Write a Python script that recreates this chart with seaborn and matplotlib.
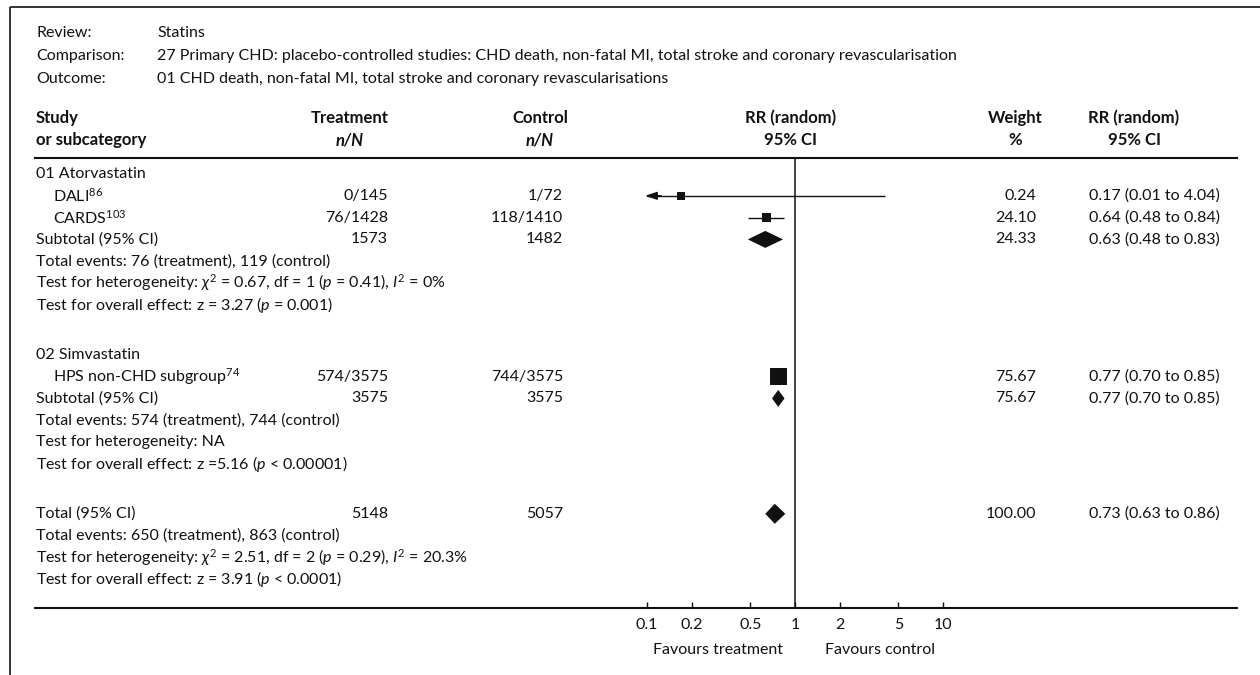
import numpy as np
import pandas as pd
import matplotlib
matplotlib.use("Agg")
import matplotlib.pyplot as plt
import seaborn as sns

# ---------------- data ----------------
review = "Statins"
comparison = ("27 Primary CHD: placebo-controlled studies: CHD death, non-fatal MI, "
              "total stroke and coronary revascularisation")
outcome = "01 CHD death, non-fatal MI, total stroke and coronary revascularisations"

groups = ["01 Atorvastatin", "02 Simvastatin"]

studies = ["DALI", "CARDS", "HPS non-CHD subgroup"]
study_refs = ["86", "103", "74"]
study_group = [0, 0, 1]
treat_nN = ["0/145", "76/1428", "574/3575"]
ctrl_nN = ["1/72", "118/1410", "744/3575"]
study_rr = [0.17, 0.64, 0.77]
study_lo = [0.01, 0.48, 0.70]
study_hi = [4.04, 0.84, 0.85]
study_weight = [0.24, 24.10, 75.67]

sub_treat_N = [1573, 3575]
sub_ctrl_N = [1482, 3575]
sub_rr = [0.63, 0.77]
sub_lo = [0.48, 0.70]
sub_hi = [0.83, 0.85]
sub_weight = [24.33, 75.67]
sub_events = ["Total events: 76 (treatment), 119 (control)",
              "Total events: 574 (treatment), 744 (control)"]
sub_het = [r"Test for heterogeneity: $\chi^2$ = 0.67, df = 1 ($p$ = 0.41), $I^2$ = 0%",
           "Test for heterogeneity: NA"]
sub_effect = [r"Test for overall effect: z = 3.27 ($p$ = 0.001)",
              r"Test for overall effect: z =5.16 ($p$ < 0.00001)"]

total_treat_N = 5148
total_ctrl_N = 5057
total_rr, total_lo, total_hi = 0.73, 0.63, 0.86
total_weight = 100.00
total_events = "Total events: 650 (treatment), 863 (control)"
total_het = r"Test for heterogeneity: $\chi^2$ = 2.51, df = 2 ($p$ = 0.29), $I^2$ = 20.3%"
total_effect = r"Test for overall effect: z = 3.91 ($p$ < 0.0001)"

axis_ticks = [0.1, 0.2, 0.5, 1, 2, 5, 10]
axis_tick_labels = ["0.1", "0.2", "0.5", "1", "2", "5", "10"]

# ---------------- style ----------------
sns.set_theme(style="white")
plt.rcParams["font.family"] = ["Lato", "DejaVu Sans"]
plt.rcParams["mathtext.fontset"] = "custom"
plt.rcParams["mathtext.rm"] = "Lato"
plt.rcParams["mathtext.it"] = "Lato:italic"
plt.rcParams["mathtext.bf"] = "Lato:bold"
FS = 11.5
FS_HEAD = 12
INK = "#111111"

W, H = 1260, 675
fig = plt.figure(figsize=(W / 100, H / 100), dpi=100)
fig.patch.set_facecolor("white")

# full-figure overlay in pixel units for the table text
tx = fig.add_axes([0, 0, 1, 1])
tx.set_xlim(0, W)
tx.set_ylim(H, 0)
tx.axis("off")

# plot strip geometry (pixels)
LEFT, RIGHT = 35, 1237
TOP, BOT = 158, 608
X_ONE, DECADE = 795, 148.0          # pixel of RR=1 and pixels per decade

# ---------------- row layout ----------------
pitch = 21.8
block_gap = 50.0
y = 174.0
rows_group, rows_study, rows_sub, rows_notes = [], [], [], []
for g in range(len(groups)):
    rows_group.append(y); y += pitch
    for i in range(len(studies)):
        if study_group[i] == g:
            rows_study.append(y); y += pitch
    rows_sub.append(y); y += pitch
    notes = []
    for _ in range(3):
        notes.append(y); y += pitch
    rows_notes.append(notes)
    y += block_gap - pitch
row_total = y
rows_total_notes = [y + pitch * k for k in (1, 2, 3)]

# ---------------- forest axes ----------------
ax = fig.add_axes([LEFT / W, 1 - BOT / H, (RIGHT - LEFT) / W, (BOT - TOP) / H])
ax.set_facecolor("none")
ax.set_xscale("log")
lo_exp = -(X_ONE - LEFT) / DECADE
hi_exp = (RIGHT - X_ONE) / DECADE
ax.set_xlim(10 ** lo_exp, 10 ** hi_exp)
ax.set_ylim(BOT, TOP)

for side in ("left", "right"):
    ax.spines[side].set_visible(False)
for side in ("top", "bottom"):
    ax.spines[side].set_color(INK)
    ax.spines[side].set_linewidth(1.5)

ax.set_xticks(axis_ticks)
ax.set_xticklabels(axis_tick_labels)
ax.xaxis.set_minor_locator(matplotlib.ticker.NullLocator())
ax.tick_params(axis="x", which="major", direction="in", length=4, width=1,
               color=INK, labelsize=FS, pad=7, labelcolor=INK, bottom=True)
ax.set_yticks([])

ax.axvline(1, color=INK, lw=1.1, zorder=1)

# confidence intervals (clipped at the lowest tick, with an arrow when clipped)
clip_lo = axis_ticks[0]
for yy, lo, hi in zip(rows_study, study_lo, study_hi):
    ax.hlines(yy, max(lo, clip_lo), hi, color=INK, lw=1.0, zorder=2)
    if lo < clip_lo:
        ax.annotate("", xy=(clip_lo * 0.97, yy), xytext=(clip_lo * 1.25, yy),
                    arrowprops=dict(arrowstyle="-|>,head_length=0.6,head_width=0.2",
                                    color=INK, lw=1.0, shrinkA=0, shrinkB=0))

# study squares, side grows with sqrt(weight)
side_px = np.maximum(8.0, 17.0 * np.sqrt(np.array(study_weight) / max(study_weight)))
side_pt = side_px * 72 / 100
sq = pd.DataFrame({"rr": study_rr, "y": rows_study})
sns.scatterplot(data=sq, x="rr", y="y", marker="s", s=side_pt ** 2,
                color=INK, linewidth=0, ax=ax, zorder=3, legend=False)
ax.set_xlabel("")
ax.set_ylabel("")


def diamond(yy, rr, lo, hi, h):
    ax.fill([lo, rr, hi, rr], [yy, yy - h / 2, yy, yy + h / 2],
            color=INK, lw=0, zorder=3)


for yy, rr, lo, hi in zip(rows_sub, sub_rr, sub_lo, sub_hi):
    diamond(yy, rr, lo, hi, 17)
diamond(row_total, total_rr, total_lo, total_hi, 20)

# ---------------- frame ----------------
tx.plot([10, W], [7, 7], color="#333333", lw=1.4, solid_capstyle="butt")
tx.plot([10, 10], [7, H], color="#333333", lw=1.4, solid_capstyle="butt")

# ---------------- text ----------------
def t(x, yy, s, ha="left", size=FS, **kw):
    tx.text(x, yy, s, ha=ha, va="center", fontsize=size, color=INK, **kw)


X_LAB, X_VAL = 36, 157
for yy, lab, val in zip([33, 56, 79], ["Review:", "Comparison:", "Outcome:"],
                        [review, comparison, outcome]):
    t(X_LAB, yy, lab)
    t(X_VAL, yy, val)

# column headers
HY1, HY2 = 118, 140
X_TRT, X_CTL, X_RR, X_WT, X_CI = 350, 540, 791, 1015, 1134
X_TRT_R, X_CTL_R, X_WT_R, X_CI_L = 388, 563, 1036, 1089
t(X_LAB, HY1, "Study", size=FS_HEAD, weight="bold")
t(X_LAB, HY2, "or subcategory", size=FS_HEAD, weight="bold")
for xc, l1, l2, it in [(X_TRT, "Treatment", "n/N", True), (X_CTL, "Control", "n/N", True),
                       (X_RR, "RR (random)", "95% CI", False), (X_WT, "Weight", "%", False),
                       (X_CI, "RR (random)", "95% CI", False)]:
    t(xc, HY1, l1, ha="center", size=FS_HEAD, weight="bold")
    t(xc, HY2, l2, ha="center", size=FS_HEAD, weight="bold",
      style="italic" if it else "normal")


def ci_text(rr, lo, hi):
    return f"{rr:.2f} ({lo:.2f} to {hi:.2f})"


X_IND = 53
for g in range(len(groups)):
    t(X_LAB, rows_group[g], groups[g])
    for i in range(len(studies)):
        if study_group[i] != g:
            continue
        yy = rows_study[i]
        t(X_IND, yy, f"{studies[i]}$^{{{study_refs[i]}}}$")
        t(X_TRT_R, yy, treat_nN[i], ha="right")
        t(X_CTL_R, yy, ctrl_nN[i], ha="right")
        t(X_WT_R, yy, f"{study_weight[i]:.2f}", ha="right")
        t(X_CI_L, yy, ci_text(study_rr[i], study_lo[i], study_hi[i]))
    yy = rows_sub[g]
    t(X_LAB, yy, "Subtotal (95% CI)")
    t(X_TRT_R, yy, str(sub_treat_N[g]), ha="right")
    t(X_CTL_R, yy, str(sub_ctrl_N[g]), ha="right")
    t(X_WT_R, yy, f"{sub_weight[g]:.2f}", ha="right")
    t(X_CI_L, yy, ci_text(sub_rr[g], sub_lo[g], sub_hi[g]))
    for yy, s in zip(rows_notes[g], [sub_events[g], sub_het[g], sub_effect[g]]):
        t(X_LAB, yy, s)

t(X_LAB, row_total, "Total (95% CI)")
t(X_TRT_R, row_total, str(total_treat_N), ha="right")
t(X_CTL_R, row_total, str(total_ctrl_N), ha="right")
t(X_WT_R, row_total, f"{total_weight:.2f}", ha="right")
t(X_CI_L, row_total, ci_text(total_rr, total_lo, total_hi))
for yy, s in zip(rows_total_notes, [total_events, total_het, total_effect]):
    t(X_LAB, yy, s)

t(783, 650, "Favours treatment", ha="right")
t(825, 650, "Favours control", ha="left")

fig.savefig("out.png", dpi=100, facecolor="white")
